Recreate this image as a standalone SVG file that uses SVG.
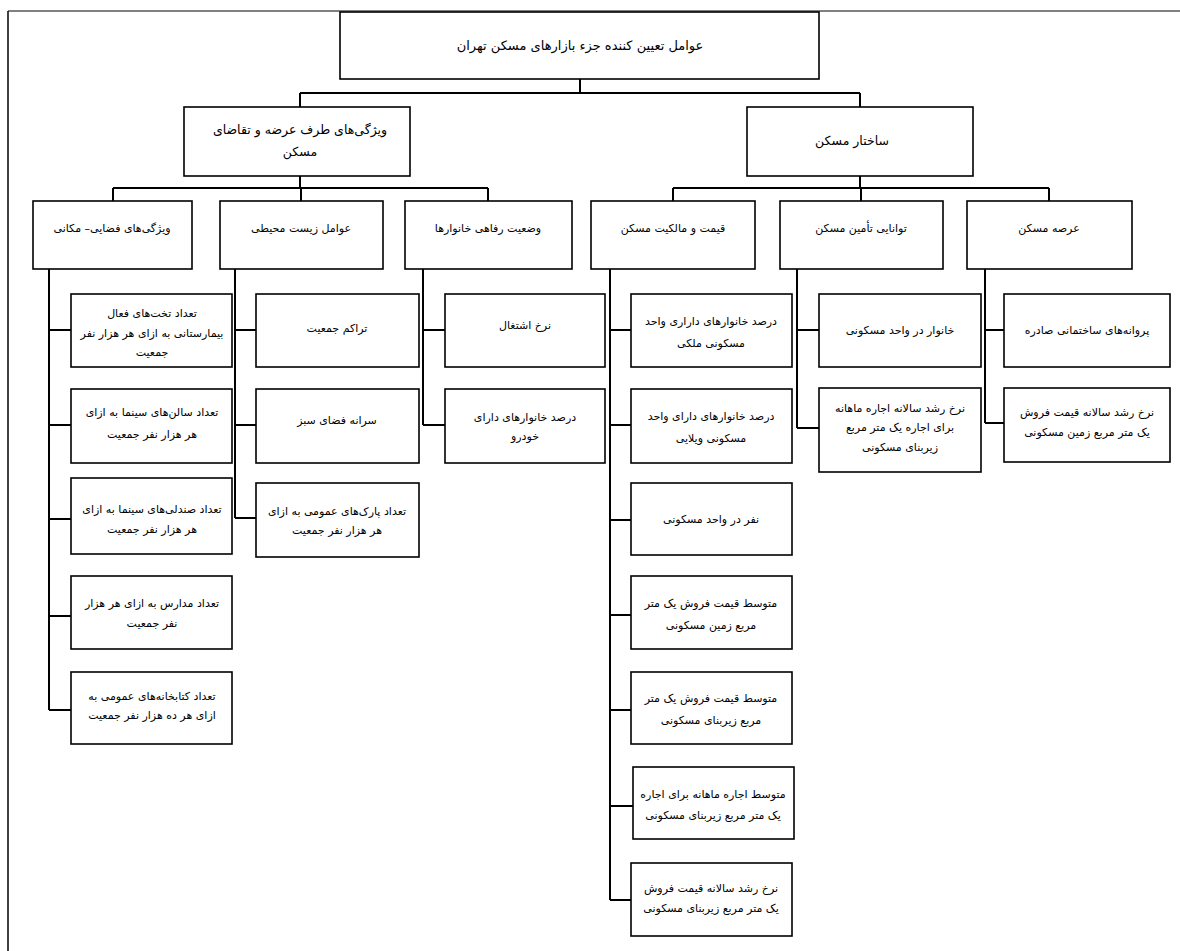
<svg xmlns="http://www.w3.org/2000/svg" width="1180" height="951" viewBox="0 0 1180 951">
<style>
.box{fill:#fff;stroke:#000;stroke-width:1.6}
.conn{fill:none;stroke:#000;stroke-width:2}
text{font-family:"DejaVu Sans",sans-serif;font-size:11px;text-anchor:middle;direction:rtl;fill:#000}
.t1{font-size:13px}
.t2{font-size:12.5px}
.t3{font-size:11px}
</style>
<rect x="0" y="0" width="1180" height="951" fill="#fff"/>
<g id="frame">
<path d="M8,11 H1180" stroke="#808080" stroke-width="2" fill="none"/>
<path d="M8,11 V951" stroke="#000" stroke-width="1.5" fill="none"/>
</g>
<g id="connectors">
<path class="conn" d="M580,79 V93 M300,93 H860 M300,93 V107 M860,93 V107"/>
<path class="conn" d="M300,176 V188 M113,188 H488 M113,188 V201 M301,188 V201 M488,188 V201"/>
<path class="conn" d="M860,176 V188 M673,188 H1049 M673,188 V201 M861,188 V201 M1049,188 V201"/>
<path class="conn" d="M49,269 V710 M49,330 H71 M49,425 H71 M49,519 H71 M49,616 H71 M49,710 H71"/>
<path class="conn" d="M235,269 V518 M235,330 H256 M235,425 H256 M235,518 H256"/>
<path class="conn" d="M423,269 V425 M423,330 H445 M423,425 H445"/>
<path class="conn" d="M610,269 V900 M610,330 H631 M610,425 H631 M610,520 H631 M610,615 H631 M610,710 H631 M610,806 H633 M610,900 H631"/>
<path class="conn" d="M797,269 V428 M797,330 H819 M797,428 H819"/>
<path class="conn" d="M985,269 V423 M985,330 H1004 M985,423 H1004"/>
</g>
<g id="root"><rect class="box" x="340" y="12" width="479" height="67"/><text class="t1" x="580" y="50">عوامل تعیین کننده جزء بازارهای مسکن تهران</text></g>
<g id="supply-demand"><rect class="box" x="184" y="107" width="226" height="69"/><text class="t2" x="300" y="134">ویژگی‌های طرف عرضه و تقاضای</text><text class="t2" x="300" y="156">مسکن</text></g>
<g id="structure"><rect class="box" x="747" y="107" width="226" height="69"/><text class="t2" x="852" y="145">ساختار مسکن</text></g>

<g id="spatial"><rect class="box" x="33" y="201" width="159" height="68"/><text class="t3" x="112" y="232">ویژگی‌های فضایی– مکانی</text></g>
<g id="environment"><rect class="box" x="220" y="201" width="163" height="68"/><text class="t3" x="301" y="232">عوامل زیست محیطی</text></g>
<g id="welfare"><rect class="box" x="405" y="201" width="167" height="68"/><text class="t3" x="488" y="232">وضعیت رفاهی خانوارها</text></g>
<g id="price-ownership"><rect class="box" x="591" y="201" width="164" height="68"/><text class="t3" x="673" y="232">قیمت و مالکیت مسکن</text></g>
<g id="affordability"><rect class="box" x="780" y="201" width="163" height="68"/><text class="t3" x="861" y="232">توانایی تأمین مسکن</text></g>
<g id="supply"><rect class="box" x="967" y="201" width="165" height="68"/><text class="t3" x="1049" y="232">عرصه مسکن</text></g>

<g id="c1-1"><rect class="box" x="71" y="294" width="161" height="73"/><text x="152" y="317">تعداد تخت‌های فعال</text><text x="152" y="337">بیمارستانی به ازای هر هزار نفر</text><text x="152" y="356">جمعیت</text></g>
<g id="c1-2"><rect class="box" x="71" y="389" width="161" height="74"/><text x="152" y="416">تعداد سالن‌های سینما به ازای</text><text x="152" y="438">هر هزار نفر جمعیت</text></g>
<g id="c1-3"><rect class="box" x="71" y="478" width="161" height="76"/><text x="152" y="513">تعداد صندلی‌های سینما به ازای</text><text x="152" y="533">هر هزار نفر جمعیت</text></g>
<g id="c1-4"><rect class="box" x="71" y="576" width="161" height="73"/><text x="152" y="607">تعداد مدارس به ازای هر هزار</text><text x="152" y="627">نفر جمعیت</text></g>
<g id="c1-5"><rect class="box" x="71" y="672" width="161" height="72"/><text x="152" y="700">تعداد کتابخانه‌های عمومی به</text><text x="152" y="719">ازای هر ده هزار نفر جمعیت</text></g>

<g id="c2-1"><rect class="box" x="256" y="294" width="163" height="73"/><text x="337" y="332">تراکم جمعیت</text></g>
<g id="c2-2"><rect class="box" x="256" y="389" width="163" height="74"/><text x="337" y="424">سرانه فضای سبز</text></g>
<g id="c2-3"><rect class="box" x="256" y="483" width="163" height="74"/><text x="337" y="515">تعداد پارک‌های عمومی به ازای</text><text x="337" y="534">هر هزار نفر جمعیت</text></g>

<g id="c3-1"><rect class="box" x="445" y="294" width="160" height="73"/><text x="525" y="329">نرخ اشتغال</text></g>
<g id="c3-2"><rect class="box" x="445" y="389" width="160" height="74"/><text x="525" y="421">درصد خانوارهای دارای</text><text x="525" y="440">خودرو</text></g>

<g id="c4-1"><rect class="box" x="631" y="294" width="161" height="73"/><text x="711" y="325">درصد خانوارهای داراری واحد</text><text x="711" y="347">مسکونی ملکی</text></g>
<g id="c4-2"><rect class="box" x="631" y="389" width="161" height="74"/><text x="711" y="420">درصد خانوارهای دارای واحد</text><text x="711" y="442">مسکونی ویلایی</text></g>
<g id="c4-3"><rect class="box" x="631" y="483" width="161" height="72"/><text x="711" y="523">نفر در واحد مسکونی</text></g>
<g id="c4-4"><rect class="box" x="631" y="576" width="161" height="73"/><text x="711" y="607">متوسط قیمت فروش یک متر</text><text x="711" y="629">مربع زمین مسکونی</text></g>
<g id="c4-5"><rect class="box" x="631" y="672" width="161" height="72"/><text x="711" y="702">متوسط قیمت فروش یک متر</text><text x="711" y="724">مربع زیربنای مسکونی</text></g>
<g id="c4-6"><rect class="box" x="633" y="767" width="161" height="72"/><text x="713" y="798">متوسط اجاره ماهانه برای اجاره</text><text x="713" y="819">یک متر مربع زیربنای مسکونی</text></g>
<g id="c4-7"><rect class="box" x="631" y="863" width="161" height="73"/><text x="711" y="892">نرخ رشد سالانه قیمت فروش</text><text x="711" y="912">یک متر مربع زیربنای مسکونی</text></g>

<g id="c5-1"><rect class="box" x="819" y="294" width="162" height="73"/><text x="900" y="334">خانوار در واحد مسکونی</text></g>
<g id="c5-2"><rect class="box" x="819" y="388" width="162" height="84"/><text x="900" y="412">نرخ رشد سالانه اجاره ماهانه</text><text x="900" y="431">برای اجاره یک متر مربع</text><text x="900" y="451">زیربنای مسکونی</text></g>

<g id="c6-1"><rect class="box" x="1004" y="294" width="166" height="73"/><text x="1087" y="334">پروانه‌های ساختمانی صادره</text></g>
<g id="c6-2"><rect class="box" x="1004" y="388" width="166" height="74"/><text x="1087" y="416">نرخ رشد سالانه قیمت فروش</text><text x="1087" y="436">یک متر مربع زمین مسکونی</text></g>
</svg>
